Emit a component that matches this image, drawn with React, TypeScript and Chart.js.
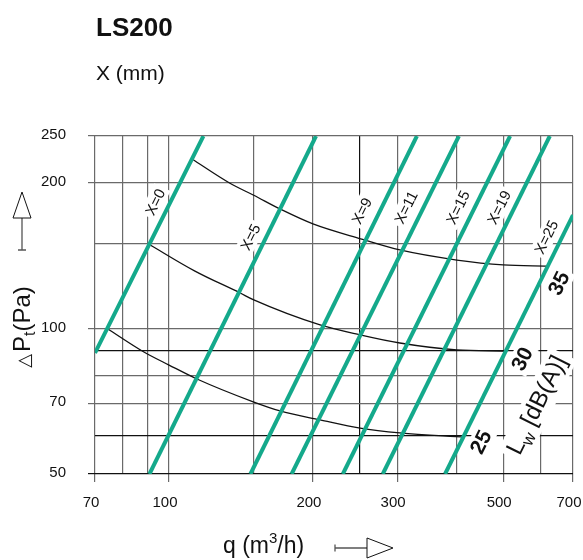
import { useEffect, useRef } from 'react';
import { Chart, registerables } from 'chart.js';

Chart.register(...registerables);

const FONT = '"Liberation Sans", Arial, Helvetica, sans-serif';

// ---- axes ----
const X_GRID = [70, 80, 90, 100, 150, 200, 250, 300, 400, 500, 600, 700];
const X_LABELS = [70, 100, 200, 300, 500, 700];
const Y_GRID = [50, 60, 70, 80, 90, 100, 150, 200, 250];
const Y_LABELS = [50, 70, 100, 200, 250];

// ---- damper setting lines (X in mm) ----
const DAMPER_NAMES = ['X=0', 'X=5', 'X=9', 'X=11', 'X=15', 'X=19', 'X=25'];
const DAMPER_Q_START = [70, 91, 148, 180.5, 231, 280, 378];
const DAMPER_P_START = [89, 50, 50, 50, 50, 50, 50];
const DAMPER_Q_END = [118, 203, 330, 404, 517, 626, 700];
const DAMPER_P_END = [250, 250, 250, 250, 250, 250, 171.6];

// ---- sound power level curves Lw dB(A) ----
const LW_NAMES = ['25', '30', '35'];
const LW25_Q = [74.2, 88.6, 100, 114.4, 150, 170.7, 207, 251, 304, 416];
const LW25_P = [100, 89.4, 84, 78.6, 70.5, 67.5, 64.7, 62.2, 60.8, 59.6];
const LW30_Q = [90.6, 113.3, 140.8, 150, 207, 251, 304, 400, 504];
const LW30_P = [149.5, 131.4, 118.4, 114.7, 101.7, 97, 93.3, 90.3, 89.8];
const LW35_Q = [111.7, 134.1, 150, 172.3, 200, 253, 304, 400, 500, 620];
const LW35_P = [224, 199.6, 188.8, 175.8, 164.5, 153, 145.3, 138.5, 135.3, 134.6];

// ---- annotation anchors (data units) ----
const DAMPER_LABEL_Q = [93.5, 148, 253, 313, 402, 490, 615];
const DAMPER_LABEL_P = [182.6, 154.5, 175, 178, 178, 178, 154.5];
const LW_LABEL_Q = [449, 548, 654];
const LW_LABEL_P = [58.2, 86.5, 124];
const LW_UNIT_Q = 586;
const LW_UNIT_P = 69.5;

const GREEN = '#14a98b';
const GRAY = '#6a6a6a';
const DARK = '#111111';

const xCol = (v: number) => (v === 250 ? DARK : GRAY);
const yCol = (v: number) => ([90, 60, 50].includes(v) ? DARK : GRAY);

function pts(q: number[], p: number[]) {
  return q.map((v, i) => ({ x: v, y: p[i] }));
}

function lineAngle(chart: any) {
  const xs = chart.scales.x;
  const ys = chart.scales.y;
  const x1 = xs.getPixelForValue(DAMPER_Q_START[1]);
  const y1 = ys.getPixelForValue(DAMPER_P_START[1]);
  const x2 = xs.getPixelForValue(DAMPER_Q_END[1]);
  const y2 = ys.getPixelForValue(DAMPER_P_END[1]);
  return Math.atan2(y1 - y2, x2 - x1);
}

type Lab = { text: string; q: number; p: number; size: number; bold: boolean };

function plotLabels(): Lab[] {
  const out: Lab[] = [];
  DAMPER_NAMES.forEach((t, i) =>
    out.push({ text: t, q: DAMPER_LABEL_Q[i], p: DAMPER_LABEL_P[i], size: 15, bold: false })
  );
  LW_NAMES.forEach((t, i) =>
    out.push({ text: t, q: LW_LABEL_Q[i], p: LW_LABEL_P[i], size: 21, bold: true })
  );
  return out;
}

const fontOf = (l: Lab) => `${l.bold ? 'bold ' : ''}${l.size}px ${FONT}`;

const overlay = {
  id: 'overlay',
  beforeDatasetsDraw(chart: any) {
    const ctx = chart.ctx as CanvasRenderingContext2D;
    const xs = chart.scales.x;
    const ys = chart.scales.y;
    const ang = lineAngle(chart);
    ctx.save();
    ctx.fillStyle = '#ffffff';
    for (const l of plotLabels()) {
      ctx.font = fontOf(l);
      const w = ctx.measureText(l.text).width;
      const h = l.size * 0.8;
      ctx.save();
      ctx.translate(xs.getPixelForValue(l.q), ys.getPixelForValue(l.p));
      ctx.rotate(-ang);
      ctx.fillRect(-w / 2 - 3, -h / 2 - 3, w + 6, h + 6);
      ctx.restore();
    }
    ctx.save();
    ctx.translate(xs.getPixelForValue(LW_UNIT_Q), ys.getPixelForValue(LW_UNIT_P));
    ctx.rotate(-ang);
    ctx.fillRect(-58, -14, 116, 31);
    ctx.restore();
    ctx.restore();
  },
  afterDatasetsDraw(chart: any) {
    const ctx = chart.ctx as CanvasRenderingContext2D;
    const xs = chart.scales.x;
    const ys = chart.scales.y;
    const ang = lineAngle(chart);
    ctx.save();
    ctx.fillStyle = DARK;
    ctx.textAlign = 'center';
    ctx.textBaseline = 'middle';
    for (const l of plotLabels()) {
      ctx.font = fontOf(l);
      ctx.save();
      ctx.translate(xs.getPixelForValue(l.q), ys.getPixelForValue(l.p));
      ctx.rotate(-ang);
      ctx.fillText(l.text, 0, 1);
      ctx.restore();
    }
    // L_w [dB(A)]
    ctx.save();
    ctx.translate(xs.getPixelForValue(LW_UNIT_Q), ys.getPixelForValue(LW_UNIT_P));
    ctx.rotate(-ang);
    ctx.textAlign = 'left';
    ctx.textBaseline = 'alphabetic';
    const big = `24px ${FONT}`;
    const small = `17px ${FONT}`;
    ctx.font = big;
    const wL = ctx.measureText('L').width;
    const wR = ctx.measureText(' [dB(A)]').width;
    ctx.font = small;
    const wW = ctx.measureText('w').width;
    let x0 = -(wL + wW + wR) / 2;
    ctx.font = big;
    ctx.fillText('L', x0, 8);
    x0 += wL;
    ctx.font = small;
    ctx.fillText('w', x0, 14);
    x0 += wW;
    ctx.font = big;
    ctx.fillText(' [dB(A)]', x0, 8);
    ctx.restore();
    ctx.restore();
  },
  afterDraw(chart: any) {
    const ctx = chart.ctx as CanvasRenderingContext2D;
    const xs = chart.scales.x;
    const ys = chart.scales.y;
    const area = chart.chartArea;
    ctx.save();
    ctx.fillStyle = DARK;
    // tick labels
    ctx.font = `15px ${FONT}`;
    ctx.textAlign = 'center';
    ctx.textBaseline = 'middle';
    for (const v of X_LABELS) {
      const s = String(v);
      const w = ctx.measureText(s).width;
      const cx = Math.min(xs.getPixelForValue(v) - 4, chart.width - w / 2 - 1);
      ctx.fillText(s, cx, area.bottom + 29);
    }
    ctx.textAlign = 'right';
    for (const v of Y_LABELS) ctx.fillText(String(v), area.left - 29, ys.getPixelForValue(v) - 1);

    // titles
    ctx.textAlign = 'left';
    ctx.textBaseline = 'alphabetic';
    ctx.font = `bold 26px ${FONT}`;
    ctx.fillText('LS200', 96, 36);
    ctx.font = `21px ${FONT}`;
    ctx.fillText('X (mm)', 96, 80);

    // x axis title q (m3/h)
    let x = 223;
    const by = 553;
    ctx.font = `23px ${FONT}`;
    ctx.fillText('q (m', x, by);
    x += ctx.measureText('q (m').width;
    ctx.font = `15px ${FONT}`;
    ctx.fillText('3', x, by - 10);
    x += ctx.measureText('3').width;
    ctx.font = `23px ${FONT}`;
    ctx.fillText('/h)', x, by);

    // x arrow
    ctx.strokeStyle = '#555';
    ctx.lineWidth = 1.3;
    ctx.beginPath();
    ctx.moveTo(335, 548);
    ctx.lineTo(367, 548);
    ctx.moveTo(335, 544.5);
    ctx.lineTo(335, 551.5);
    ctx.stroke();
    ctx.strokeStyle = DARK;
    ctx.lineWidth = 1;
    ctx.beginPath();
    ctx.moveTo(367, 538);
    ctx.lineTo(393, 548);
    ctx.lineTo(367, 558);
    ctx.closePath();
    ctx.stroke();

    // y arrow
    ctx.strokeStyle = '#555';
    ctx.lineWidth = 1.3;
    ctx.beginPath();
    ctx.moveTo(22, 218);
    ctx.lineTo(22, 250);
    ctx.moveTo(18, 250);
    ctx.lineTo(26, 250);
    ctx.stroke();
    ctx.strokeStyle = DARK;
    ctx.lineWidth = 1;
    ctx.beginPath();
    ctx.moveTo(22, 192);
    ctx.lineTo(31, 218);
    ctx.lineTo(13, 218);
    ctx.closePath();
    ctx.stroke();

    // y axis title  △Pt(Pa)
    ctx.save();
    ctx.translate(30, 327);
    ctx.rotate(-Math.PI / 2);
    const tri = `18px "DejaVu Sans", ${FONT}`;
    const main = `24px ${FONT}`;
    const sub = `16px ${FONT}`;
    ctx.font = tri;
    const wT = ctx.measureText('△').width;
    ctx.font = main;
    const wP = ctx.measureText('P').width;
    const wPa = ctx.measureText('(Pa)').width;
    ctx.font = sub;
    const wt = ctx.measureText('t').width;
    let tx = -(wT + 2 + wP + wt + wPa) / 2;
    ctx.font = tri;
    ctx.fillText('△', tx, 0);
    tx += wT + 2;
    ctx.font = main;
    ctx.fillText('P', tx, 0);
    tx += wP;
    ctx.font = sub;
    ctx.fillText('t', tx, 5);
    tx += wt;
    ctx.font = main;
    ctx.fillText('(Pa)', tx, 0);
    ctx.restore();

    ctx.restore();
  },
};

export default function App() {
  const ref = useRef<HTMLCanvasElement>(null);

  useEffect(() => {
    if (!ref.current) return;
    const greenSets = DAMPER_NAMES.map((name, i) => ({
      label: name,
      data: [
        { x: DAMPER_Q_START[i], y: DAMPER_P_START[i] },
        { x: DAMPER_Q_END[i], y: DAMPER_P_END[i] },
      ],
      borderColor: GREEN,
      borderWidth: 4,
      pointRadius: 0,
      fill: false,
      clip: 0,
    }));
    const curveData = [pts(LW25_Q, LW25_P), pts(LW30_Q, LW30_P), pts(LW35_Q, LW35_P)];
    const curveSets = LW_NAMES.map((name, i) => ({
      label: `Lw ${name}`,
      data: curveData[i],
      borderColor: DARK,
      borderWidth: 1.3,
      pointRadius: 0,
      fill: false,
      cubicInterpolationMode: 'monotone' as const,
    }));

    const chart = new Chart(ref.current, {
      type: 'line',
      data: { datasets: [...greenSets, ...curveSets] as any },
      options: {
        animation: false,
        responsive: false,
        events: [],
        layout: { padding: { left: 88, right: 10, top: 136, bottom: 78 } },
        plugins: { legend: { display: false }, tooltip: { enabled: false } },
        scales: {
          x: {
            type: 'logarithmic',
            min: 70,
            max: 700,
            afterBuildTicks: (s: any) => {
              s.ticks = X_GRID.map((v) => ({ value: v }));
            },
            ticks: { display: false },
            border: { display: false },
            grid: {
              color: (c: any) => xCol(c.tick?.value),
              lineWidth: 1.2,
              drawTicks: true,
              tickLength: 8,
              tickWidth: 1.2,
              tickColor: (c: any) =>
                X_LABELS.includes(c.tick?.value) ? xCol(c.tick.value) : 'rgba(0,0,0,0)',
            },
          },
          y: {
            type: 'logarithmic',
            min: 50,
            max: 250,
            afterBuildTicks: (s: any) => {
              s.ticks = Y_GRID.map((v) => ({ value: v }));
            },
            ticks: { display: false },
            border: { display: false },
            grid: {
              color: (c: any) => yCol(c.tick?.value),
              lineWidth: 1.2,
              drawTicks: true,
              tickLength: 7,
              tickWidth: 1.2,
              tickColor: (c: any) =>
                Y_LABELS.includes(c.tick?.value) ? yCol(c.tick.value) : 'rgba(0,0,0,0)',
            },
          },
        },
      },
      plugins: [overlay],
    });
    return () => chart.destroy();
  }, []);

  return (
    <div style={{ position: 'absolute', left: 0, top: 0, width: 583, height: 560, background: '#fff' }}>
      <canvas ref={ref} width={583} height={560} style={{ display: 'block', width: 583, height: 560 }} />
    </div>
  );
}
